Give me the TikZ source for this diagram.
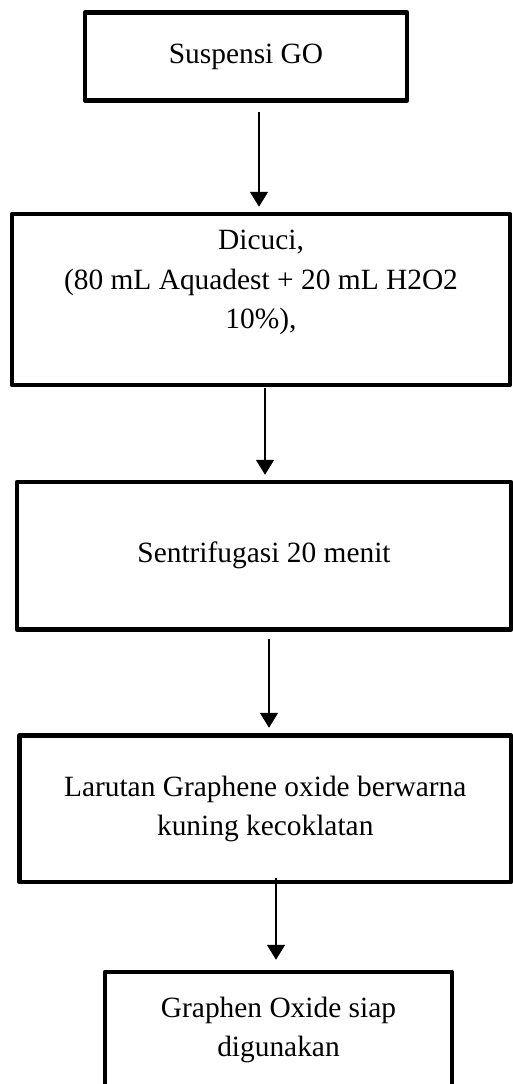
\documentclass[tikz,border=0pt]{standalone}
\usepackage{fontspec}
\setmainfont{Liberation Serif}
\usetikzlibrary{arrows.meta}

\begin{document}
\begin{tikzpicture}[->,>={Triangle[width=18pt,length=15pt]},line width=1.6pt,
  procbox/.style={draw,rectangle,line width=4.5pt,line join=round,inner sep=0pt,
    align=center,font=\fontsize{29.4}{39.5}\selectfont}]

\useasboundingbox (0,0) rectangle (512pt,-1084pt);

\node[procbox,minimum width=322pt,minimum height=88pt] (GO) at (246pt,-56.5pt) {Suspensi GO};
\node[procbox,minimum width=498pt,minimum height=171pt] (Cuci) at (261pt,-299.5pt)
  {Dicuci,\\(80 mL Aquadest + 20 mL H2O2\\10\%),\\\mbox{}};
\node[procbox,minimum width=494pt,minimum height=147.5pt] (Sentri) at (264pt,-555.75pt)
  {Sentrifugasi 20 menit};
\node[procbox,minimum width=491.5pt,minimum height=146.5pt] (Larutan) at (265.25pt,-808.75pt)
  {Larutan Graphene oxide berwarna\\kuning kecoklatan};
\node[procbox,minimum width=347pt,minimum height=116pt] (Siap) at (278.5pt,-1030pt)
  {Graphen Oxide siap\\digunakan};

\coordinate (x1) at (259pt,0);
\coordinate (x2) at (265pt,0);
\coordinate (x3) at (269pt,0);
\coordinate (x4) at (276pt,0);

\draw[shorten <=9.5pt,shorten >=5pt] (GO.south -| x1) -- (Cuci.north -| x1);
\draw[shorten <=1pt,shorten >=5pt] (Cuci.south -| x2) -- (Sentri.north -| x2);
\draw[shorten <=7.5pt,shorten >=5.5pt] (Sentri.south -| x3) -- (Larutan.north -| x3);
\draw[shorten <=-6pt,shorten >=10pt] (Larutan.south -| x4) -- (Siap.north -| x4);

\end{tikzpicture}
\end{document}
